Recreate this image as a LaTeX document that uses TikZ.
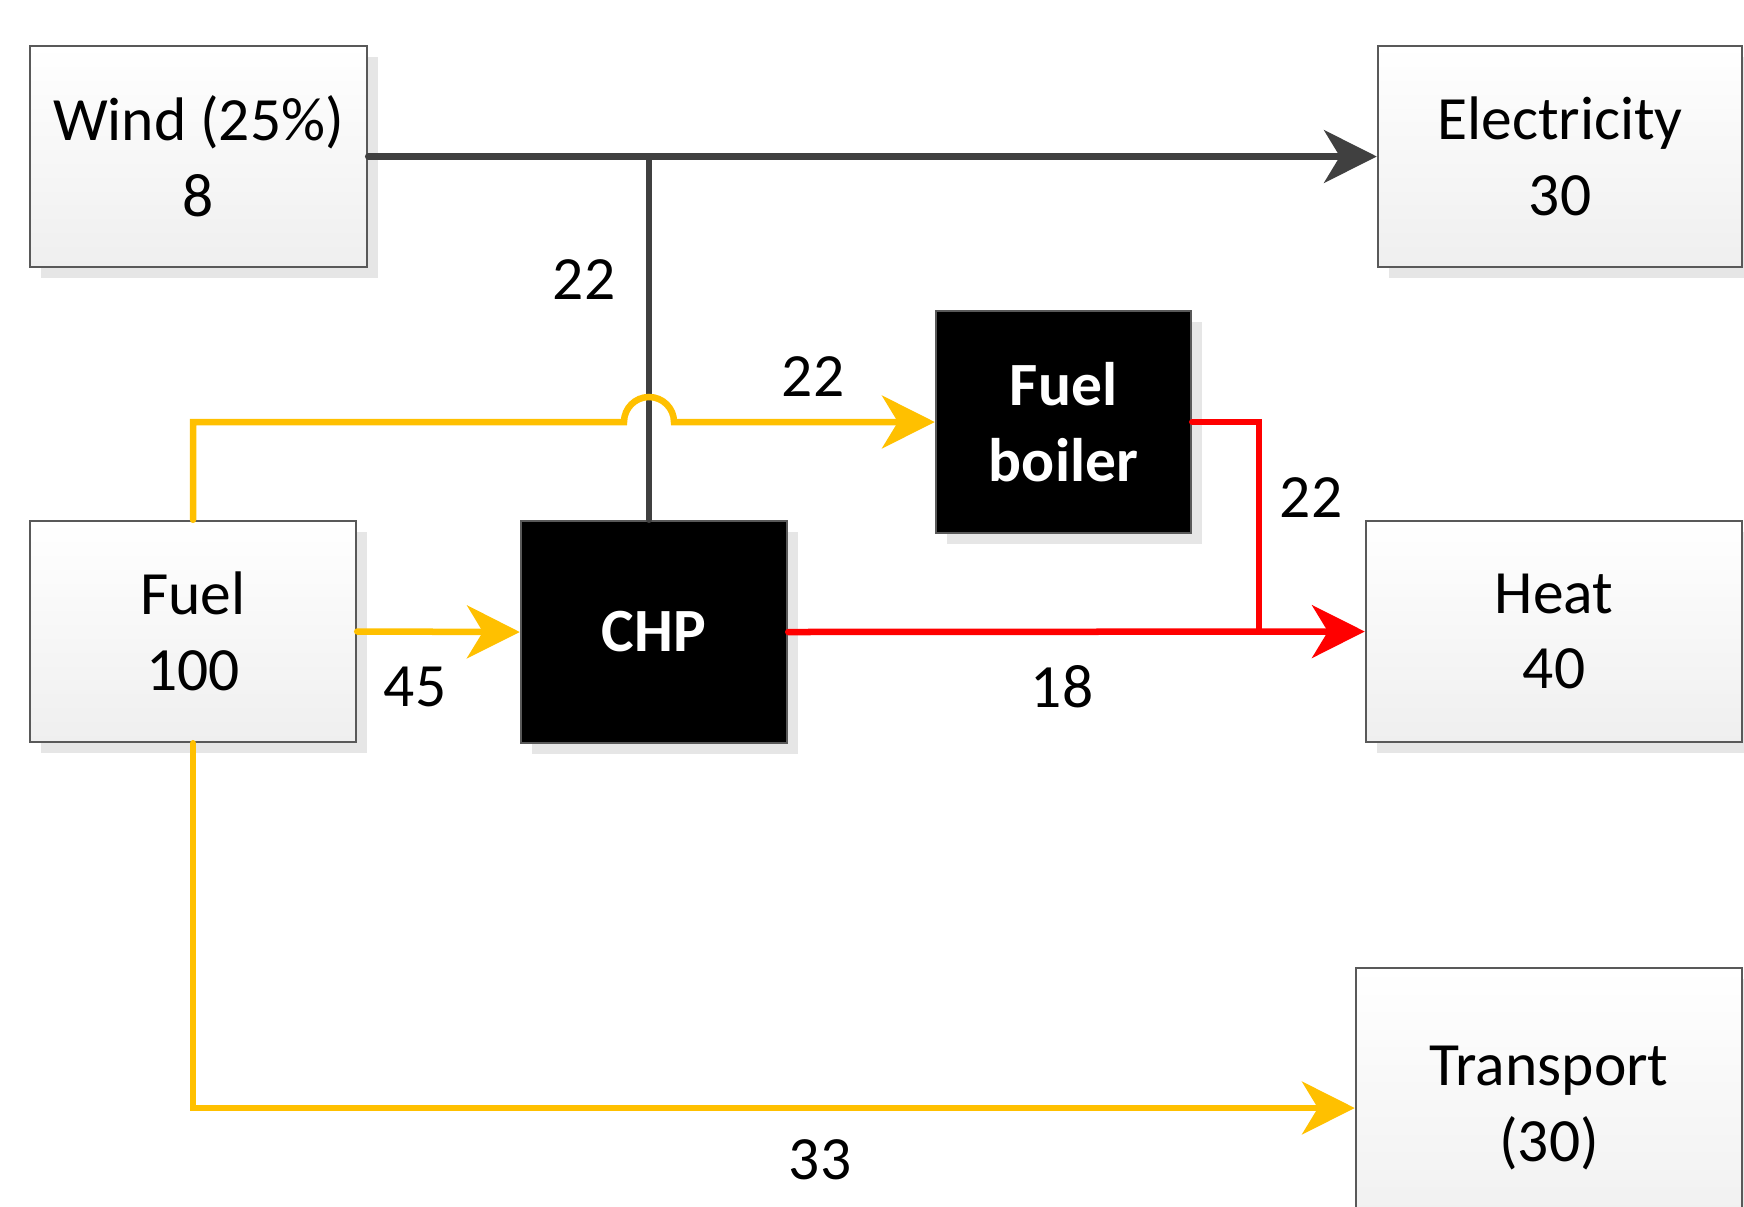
\documentclass[tikz,border=0pt]{standalone}
\usepackage{fontspec}
\setmainfont{Carlito}
\usetikzlibrary{arrows.meta,shadows}
\definecolor{flowgray}{HTML}{404040}
\definecolor{flowyellow}{HTML}{FFC000}
\definecolor{flowred}{HTML}{FF0000}
\definecolor{boxline}{HTML}{595959}
\definecolor{boxshade}{HTML}{E6E6E6}
\definecolor{boxlow}{HTML}{EFEFEF}
\begin{document}
\begin{tikzpicture}[
	every node/.style={font=\fontsize{17.5}{21.5}\selectfont},
	boxbase/.style={draw=boxline, line width=0.7pt, align=center, inner sep=0pt,
		drop shadow={shadow xshift=0.11cm, shadow yshift=-0.11cm, fill=boxshade, opacity=1}},
	sector/.style={boxbase, top color=white, bottom color=boxlow},
	unit/.style={boxbase, fill=black, text=white, font=\fontsize{17.5}{21.5}\selectfont\bfseries},
	flow/.style={line width=1.85pt, line cap=round},
	tip/.style={-{Stealth[length=15pt, width=15pt, inset=4.5pt]}}
	]
		\useasboundingbox (0,0) rectangle (17.44,-12.06);
		\clip (0,0) rectangle (17.44,-12.06);
		% boxes
		\node[sector, minimum width=3.37cm, minimum height=2.21cm] (wind) at (1.985,-1.565) {Wind (25\%)\\8};
		\node[sector, minimum width=3.64cm, minimum height=2.21cm] (elec) at (15.60,-1.565) {Electricity\\30};
		\node[unit, minimum width=2.55cm, minimum height=2.22cm] (boiler) at (10.635,-4.22) {Fuel\\boiler};
		\node[sector, minimum width=3.26cm, minimum height=2.21cm] (fuel) at (1.93,-6.315) {Fuel\\100};
		\node[unit, minimum width=2.66cm, minimum height=2.22cm] (chp) at (6.54,-6.32) {CHP};
		\node[sector, minimum width=3.76cm, minimum height=2.21cm] (heat) at (15.54,-6.315) {Heat\\40};
		\node[sector, minimum width=3.86cm, minimum height=2.80cm] (trans) at (15.49,-11.08) {Transport\\(30)};
		% junctions
		\coordinate (ej) at (6.49,-1.57);
		\coordinate (rj) at (12.59,-6.315);
		% electricity
		\draw[flow, flowgray, tip] (wind.east) -- (elec.west);
		\draw[flow, flowgray] (ej) -- (ej |- chp.north);
		% fuel
		\draw[flow, flowyellow, tip] (fuel.north) |- (6.24,-4.22) arc[start angle=180, end angle=0, radius=0.25] -- (boiler.west);
		\draw[flow, flowyellow, tip] (fuel.east) -- (chp.west);
		\draw[flow, flowyellow, tip] (fuel.south) |- (trans.west);
		% heat
		\draw[flow, flowred] (boiler.east) -| (rj);
		\draw[flow, flowred, tip] (chp.east) -- (heat.west);
		% labels
		\node (l1) at (5.84,-2.80) {22};
		\node (l2) at (8.13,-3.77) {22};
		\node (l3) at (4.15,-6.87) {45};
		\node (l4) at (10.62,-6.87) {18};
		\node (l5) at (13.11,-4.98) {22};
		\node (l6) at (8.20,-11.60) {33};
	\end{tikzpicture}
\end{document}
